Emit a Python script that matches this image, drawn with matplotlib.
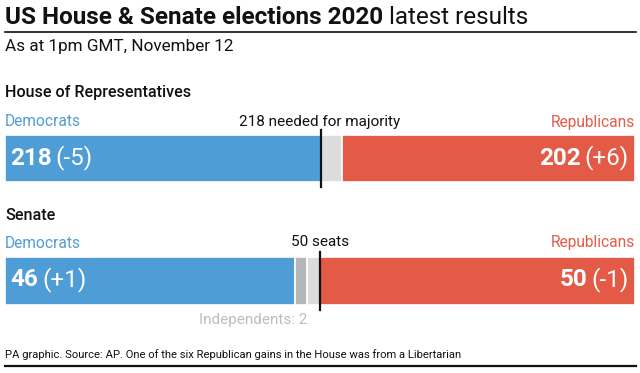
import matplotlib
matplotlib.use("Agg")
import matplotlib.pyplot as plt

plt.rcParams['font.family'] = ['Roboto', 'DejaVu Sans']

# ---- data ----
parties = ["Democrats", "Republicans"]
house_seats = [218, 202]
house_change = ["(-5)", "(+6)"]
house_total = 435
house_majority = 218
senate_seats = [46, 50]
senate_change = ["(+1)", "(-1)"]
senate_independents = 2
senate_total = 100
senate_majority = 50

BLUE = "#4f9dd7"
RED = "#e35b46"
LGRAY = "#dcdcdc"
DGRAY = "#b4b6b9"

W, H = 640, 373
fig = plt.figure(figsize=(W / 100, H / 100), dpi=100)
fig.patch.set_facecolor("white")


def fx(x):
    return x / W


def fy(y):
    return 1 - y / H


def txt(x, y, s, **kw):
    kw.setdefault("va", "center")
    return fig.text(fx(x), fy(y), s, **kw)


renderer = fig.canvas.get_renderer()


def two_part(x, y, bold, regular, size, color, align="left", gap=4):
    if align == "left":
        t1 = txt(x, y, bold, fontsize=size, fontweight="bold", color=color, ha="left")
        bb = t1.get_window_extent(renderer)
        txt(bb.x1 + gap, y, regular, fontsize=size, color=color, ha="left")
    else:
        t2 = txt(x, y, regular, fontsize=size, color=color, ha="right")
        bb = t2.get_window_extent(renderer)
        txt(bb.x0 - gap, y, bold, fontsize=size, fontweight="bold", color=color, ha="right")


def bar_axes(top, bottom, total):
    ax = fig.add_axes([fx(5), fy(bottom), fx(635) - fx(5), fy(top) - fy(bottom)])
    ax.set_xlim(0, total)
    ax.set_ylim(-0.5, 0.5)
    ax.axis("off")
    return ax


# ---- title ----
t = txt(5, 18, "US House & Senate elections 2020", fontsize=17.5, fontweight="bold", color="#111111", ha="left")
bb = t.get_window_extent(renderer)
txt(bb.x1 + 6, 18, "latest results", fontsize=17.5, color="#111111", ha="left")
fig.add_artist(plt.Line2D([fx(5), fx(636)], [fy(32), fy(32)], color="#111111", lw=1.2))
txt(5, 46, "As at 1pm GMT, November 12", fontsize=12.3, color="#111111", ha="left")

# ---- House ----
txt(5, 93, "House of Representatives", fontsize=11.6, fontweight="medium", color="#111111", ha="left")
txt(5, 122, parties[0], fontsize=11.2, color=BLUE, ha="left")
txt(635, 122, parties[1], fontsize=11.2, color=RED, ha="right")
txt(320, 122, f"{house_majority} needed for majority", fontsize=11, color="#111111", ha="center")

axh = bar_axes(135, 182, house_total)
undecided_h = house_total - sum(house_seats)
axh.barh(0, house_seats[0], left=0, height=1, color=BLUE, edgecolor="white", lw=1.2)
axh.barh(0, undecided_h, left=house_seats[0], height=1, color=LGRAY, edgecolor="white", lw=1.2)
axh.barh(0, house_seats[1], left=house_total - house_seats[1], height=1, color=RED, edgecolor="white", lw=1.2)
axh.plot([house_majority, house_majority], [-0.6, 0.6], color="#111111", lw=1.6, clip_on=False)

two_part(10, 158, str(house_seats[0]), house_change[0], 17.5, "white", "left")
two_part(629, 158, str(house_seats[1]), house_change[1], 17.5, "white", "right")

# ---- Senate ----
txt(5, 215, "Senate", fontsize=11.6, fontweight="medium", color="#111111", ha="left")
txt(5, 243, parties[0], fontsize=11.2, color=BLUE, ha="left")
txt(635, 243, parties[1], fontsize=11.2, color=RED, ha="right")
txt(320, 242, f"{senate_majority} seats", fontsize=11, color="#111111", ha="center")

axs = bar_axes(257, 305, senate_total)
undecided_s = senate_total - sum(senate_seats) - senate_independents
axs.barh(0, senate_seats[0], left=0, height=1, color=BLUE, edgecolor="white", lw=1.2)
axs.barh(0, senate_independents, left=senate_seats[0], height=1, color=DGRAY, edgecolor="white", lw=1.2)
axs.barh(0, undecided_s, left=senate_seats[0] + senate_independents, height=1, color=LGRAY, edgecolor="white", lw=1.2)
axs.barh(0, senate_seats[1], left=senate_total - senate_seats[1], height=1, color=RED, edgecolor="white", lw=1.2)
axs.plot([senate_majority, senate_majority], [-0.6, 0.6], color="#111111", lw=1.6, clip_on=False)

two_part(10, 280, str(senate_seats[0]), senate_change[0], 17.5, "white", "left")
two_part(629, 280, str(senate_seats[1]), senate_change[1], 17.5, "white", "right")

# independents label, right-aligned to end of independents segment
ind_end_px = 5 + (senate_seats[0] + senate_independents) / senate_total * 630
txt(ind_end_px, 320, f"Independents: {senate_independents}", fontsize=11, color="#bdbdbd", ha="right")

# ---- footer ----
txt(5, 355, "PA graphic. Source: AP. One of the six Republican gains in the House was from a Libertarian",
    fontsize=8.1, color="#111111", ha="left")
fig.add_artist(plt.Line2D([fx(5), fx(636)], [fy(366), fy(366)], color="#111111", lw=1.6))

fig.savefig("out.png", dpi=100, facecolor="white")
